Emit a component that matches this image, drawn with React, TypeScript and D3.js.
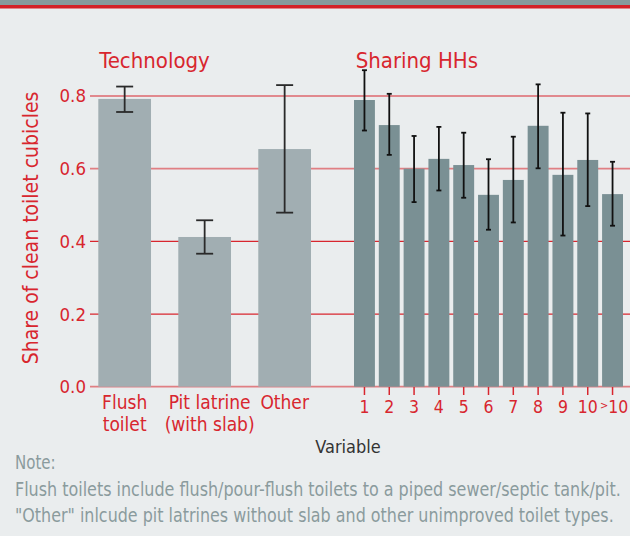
import * as d3 from "d3";
import { useEffect, useRef } from "react";

const techLines = [["Flush", "toilet"], ["Pit latrine", "(with slab)"], ["Other"]];
const techKeys = ["Flush toilet", "Pit latrine (with slab)", "Other"];
const techValues = [0.792, 0.412, 0.654];
const techLow = [0.756, 0.366, 0.479];
const techHigh = [0.826, 0.458, 0.83];

const shareLabels = ["1", "2", "3", "4", "5", "6", "7", "8", "9", "10", ">10"];
const shareValues = [0.789, 0.72, 0.6, 0.627, 0.61, 0.528, 0.569, 0.718, 0.583, 0.624, 0.53];
const shareLow = [0.705, 0.638, 0.508, 0.54, 0.52, 0.432, 0.452, 0.601, 0.416, 0.497, 0.443];
const shareHigh = [0.871, 0.806, 0.69, 0.715, 0.699, 0.626, 0.688, 0.832, 0.754, 0.752, 0.619];

const yTicks = [0, 0.2, 0.4, 0.6, 0.8];
const noteLines = [
  "Note:",
  "Flush toilets include flush/pour-flush toilets to a piped sewer/septic tank/pit.",
  "\"Other\" inlcude pit latrines without slab and other unimproved toilet types.",
];
// target widths of the note lines in the reference
const noteWidths = [0, 606, 599];

const W = 630;
const H = 536;
const RED = "#d8262e";
const FONT = '"Liberation Sans Narrow", "DejaVu Sans Condensed", Roboto, sans-serif';

export default function App() {
  const noteRef = useRef<SVGGElement>(null);

  const y = d3.scaleLinear().domain([0, 0.8]).range([386.7, 96]);
  const xTech = d3.scaleBand().domain(techKeys).range([98.3, 311]).paddingInner(0.341);
  const xShare = d3.scaleBand().domain(shareLabels).range([354, 623]).paddingInner(0.157);
  const fmt = d3.format(".1f");

  useEffect(() => {
    // squeeze the long note lines horizontally so they fit like the narrow font in the reference
    d3.select(noteRef.current)
      .selectAll<SVGGElement, unknown>("g.note")
      .each(function (_, i) {
        const t = this.querySelector("text") as SVGTextElement;
        const w = t.getComputedTextLength();
        const sx = noteWidths[i] ? Math.min(1, noteWidths[i] / w) : 0.88;
        d3.select(this).attr("transform", `translate(15,${469.3 + i * 26.2}) scale(${sx},1)`);
      });
  }, []);

  return (
    <svg width={W} height={H} style={{ position: "absolute", left: 0, top: 0 }} fontFamily={FONT}>
      <rect width={W} height={H} fill="#eaedee" />
      <rect width={W} height={6} fill="#879a9c" />
      <rect y={5} width={W} height={3.5} fill="#d42127" />

      {/* grid */}
      {yTicks.map((t, i) => (
        <line key={t} x1={90} x2={630} y1={y(t)} y2={y(t)}
          stroke={i % 3 === 0 ? "#e07f83" : RED} strokeWidth={i % 3 === 0 ? 1.8 : 1.2} />
      ))}
      {yTicks.map((t) => (
        <text key={"l" + t} x={86} y={y(t)} dy="0.35em" textAnchor="end" fill={RED} fontSize={18.5}>
          {fmt(t)}
        </text>
      ))}
      <text transform="translate(38,228) rotate(-90)" textAnchor="middle" fill={RED} fontSize={21}>
        Share of clean toilet cubicles
      </text>

      <text x={99.3} y={67.7} fill={RED} fontSize={22}>Technology</text>
      <text x={355.7} y={67.7} fill={RED} fontSize={22}>Sharing HHs</text>

      {/* technology bars */}
      {techKeys.map((k, i) => {
        const x0 = xTech(k)!;
        const cx = x0 + xTech.bandwidth() / 2;
        const lx = cx + (i === 1 ? 5 : 0);
        return (
          <g key={k}>
            <rect x={x0} y={y(techValues[i])} width={xTech.bandwidth()} height={y(0) - y(techValues[i])} fill="#a1aeb2" />
            <g stroke="#2a2a2a" strokeWidth={1.8}>
              <line x1={cx} x2={cx} y1={y(techHigh[i])} y2={y(techLow[i])} />
              <line x1={cx - 8.5} x2={cx + 8.5} y1={y(techHigh[i])} y2={y(techHigh[i])} />
              <line x1={cx - 8.5} x2={cx + 8.5} y1={y(techLow[i])} y2={y(techLow[i])} />
            </g>
            <text x={lx} y={409.3} textAnchor="middle" fill={RED} fontSize={19}>
              {techLines[i].map((ln, j) => (
                <tspan key={j} x={lx} dy={j === 0 ? 0 : 21.4}>{ln}</tspan>
              ))}
            </text>
          </g>
        );
      })}

      {/* sharing bars */}
      {shareLabels.map((k, i) => {
        const x0 = xShare(k)!;
        const cx = x0 + xShare.bandwidth() / 2;
        return (
          <g key={k}>
            <rect x={x0} y={y(shareValues[i])} width={xShare.bandwidth()} height={y(0) - y(shareValues[i])} fill="#7a9094" />
            <g stroke="#111" strokeWidth={1.8}>
              <line x1={cx} x2={cx} y1={y(shareHigh[i])} y2={y(shareLow[i])} />
              <line x1={cx - 2.5} x2={cx + 2.5} y1={y(shareHigh[i])} y2={y(shareHigh[i])} />
              <line x1={cx - 2.5} x2={cx + 2.5} y1={y(shareLow[i])} y2={y(shareLow[i])} />
            </g>
            <line x1={cx} x2={cx} y1={387} y2={395} stroke={RED} strokeWidth={1.5} />
            <text x={cx + (k === ">10" ? 1.5 : 0)} y={412.7} textAnchor="middle" fill={RED} fontSize={17.5}>
              {k === ">10" ? (
                <>
                  <tspan fontSize={11} dy={-4}>&gt;</tspan>
                  <tspan dy={4}>10</tspan>
                </>
              ) : k}
            </text>
          </g>
        );
      })}

      <text x={348} y={452.7} textAnchor="middle" fill="#333" fontSize={18}>Variable</text>

      <g ref={noteRef}>
        {noteLines.map((ln, i) => (
          <g key={i} className="note" transform={`translate(15,${469.3 + i * 26.2})`}>
            <text fill="#8a9b9d" fontSize={19}>{ln}</text>
          </g>
        ))}
      </g>
    </svg>
  );
}
